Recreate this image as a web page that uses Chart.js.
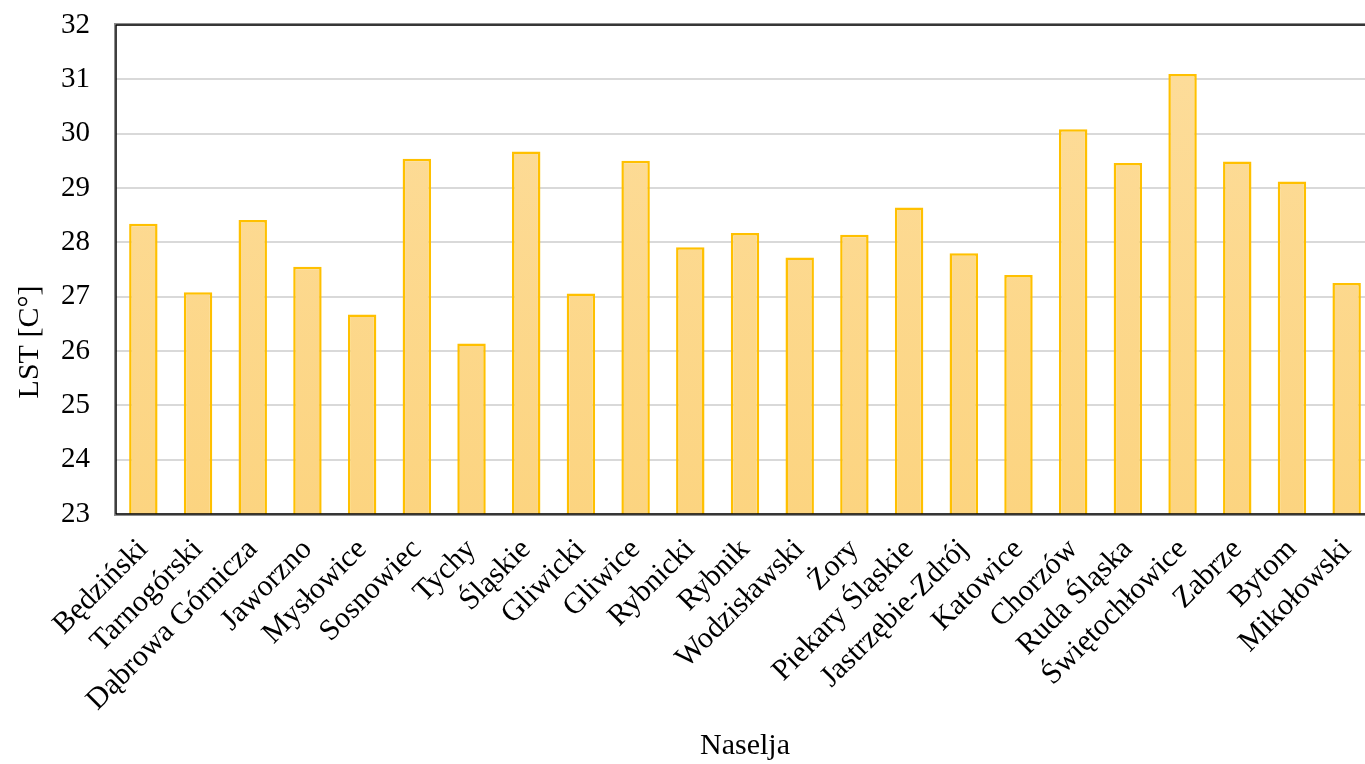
<!DOCTYPE html>
<html>
<head>
<meta charset="utf-8">
<script src="https://cdn.jsdelivr.net/npm/chart.js@4"></script>
<style>
html,body{margin:0;padding:0;background:#fff;overflow:hidden;}
#wrap{width:1376px;height:764px;position:relative;}
</style>
</head>
<body>
<div id="wrap"><canvas id="c" width="1376" height="764"></canvas></div>
<script>
const categories = ["Będziński","Tarnogórski","Dąbrowa Górnicza","Jaworzno","Mysłowice","Sosnowiec","Tychy","Śląskie","Gliwicki","Gliwice","Rybnicki","Rybnik","Wodzisławski","Żory","Piekary Śląskie","Jastrzębie-Zdrój","Katowice","Chorzów","Ruda Śląska","Świętochłowice","Zabrze","Bytom","Mikołowski"];
const lstValues = [28.34,27.08,28.41,27.55,26.67,29.54,26.14,29.67,27.06,29.50,27.91,28.17,27.72,28.14,28.64,27.80,27.40,30.08,29.46,31.10,29.49,29.12,27.25];
const yMin = 23, yMax = 32, yStep = 1;
const xTitle = "Naselja";
const yTitle = "LST [C°]";

const FONT = "'Liberation Serif', 'Times New Roman', serif";

const framePlugin = {
  id: 'frame',
  afterDraw(chart) {
    const {ctx, chartArea: a} = chart;
    ctx.save();
    ctx.strokeStyle = '#8c8c8c';
    ctx.lineWidth = 1;
    ctx.strokeRect(a.left - 1.5, a.top - 1.5, a.right - a.left + 3, a.bottom - a.top + 3);
    ctx.strokeStyle = '#000';
    ctx.lineWidth = 1.5;
    ctx.strokeRect(a.left, a.top, a.right - a.left, a.bottom - a.top);
    // y axis title
    ctx.translate(30, 342);
    ctx.rotate(-Math.PI / 2);
    ctx.fillStyle = '#000';
    ctx.font = "30px " + FONT;
    ctx.textAlign = 'center';
    ctx.textBaseline = 'middle';
    ctx.fillText(yTitle, 0, 0);
    ctx.restore();
  }
};

const ctx = document.getElementById('c').getContext('2d');
new Chart(ctx, {
  type: 'bar',
  data: {
    labels: categories,
    datasets: [{
      data: lstValues,
      backgroundColor: (c) => {
        const a = c.chart.chartArea;
        if (!a) return '#FCD88D';
        const g = c.chart.ctx.createLinearGradient(0, a.top, 0, a.bottom);
        g.addColorStop(0, '#FDDD9C');
        g.addColorStop(1, '#FCD480');
        return g;
      },
      borderColor: '#FFC000',
      borderWidth: 2.5,
      barPercentage: 0.52,
      categoryPercentage: 1.0
    }]
  },
  options: {
    responsive: false,
    animation: false,
    devicePixelRatio: 1,
    layout: {autoPadding: false, padding: {top: 25, left: 0, right: 2, bottom: 0}},
    plugins: {legend: {display: false}, tooltip: {enabled: false}},
    scales: {
      x: {
        grid: {display: false, drawTicks: false},
        border: {display: false},
        ticks: {
          autoSkip: false, minRotation: 45, maxRotation: 45,
          color: '#000', padding: 18,
          font: {family: FONT, size: 30}
        },
        title: {display: true, text: xTitle, color: '#000', font: {family: FONT, size: 30}, padding: {top: 0, bottom: 0}},
        afterFit(scale) { scale.height = 250; scale.paddingLeft = 0; scale.paddingRight = 0; }
      },
      y: {
        min: yMin, max: yMax,
        grid: {color: '#d9d9d9', lineWidth: 2, drawTicks: false},
        border: {display: false},
        ticks: {
          stepSize: yStep, color: '#000', padding: 26,
          font: {family: FONT, size: 29}
        },
        afterFit(scale) { scale.width = 116; scale.paddingTop = 0; scale.paddingBottom = 0; }
      }
    }
  },
  plugins: [framePlugin]
});
</script>
</body>
</html>
